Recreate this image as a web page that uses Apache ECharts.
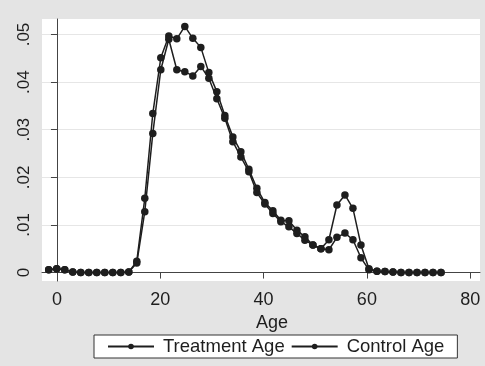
<!DOCTYPE html>
<html>
<head>
<meta charset="utf-8">
<script src="https://cdn.jsdelivr.net/npm/echarts@6/dist/echarts.min.js"></script>
<style>
  html, body { margin: 0; padding: 0; background: #e4e4e4; }
  #main { width: 485px; height: 366px; }
</style>
</head>
<body>
<div id="main"></div>
<script>
var ages = [-1.6, -0.05, 1.5, 3.05, 4.6, 6.15, 7.7, 9.25, 10.8, 12.35,
  13.9, 15.45, 17.0, 18.55, 20.1, 21.65, 23.2, 24.75, 26.3, 27.85,
  29.4, 30.95, 32.5, 34.05, 35.6, 37.15, 38.7, 40.25, 41.8, 43.35,
  44.9, 46.45, 48.0, 49.55, 51.1, 52.65, 54.2, 55.75, 57.3, 58.85,
  60.4, 61.95, 63.5, 65.05, 66.6, 68.15, 69.7, 71.25, 72.8, 74.35];

var treatment = [0.0006, 0.0008, 0.0006, 0.0001, 0, 0, 0, 0, 0, 0,
  0.0001, 0.0024, 0.0156, 0.0334, 0.0451, 0.0497, 0.0491, 0.0517, 0.0492, 0.0473,
  0.0420, 0.0380, 0.0330, 0.0285, 0.0254, 0.0217, 0.0177, 0.0147, 0.0130, 0.0110,
  0.0109, 0.0089, 0.0075, 0.0058, 0.0050, 0.0069, 0.0142, 0.0163, 0.0135, 0.0058,
  0.0008, 0.0003, 0.0002, 0.0001, 0, 0, 0, 0, 0, 0];

var control = [0.0006, 0.0008, 0.0006, 0.0001, 0, 0, 0, 0, 0, 0,
  0.0001, 0.0020, 0.0128, 0.0292, 0.0426, 0.0490, 0.0426, 0.0422, 0.0413, 0.0433,
  0.0408, 0.0365, 0.0324, 0.0275, 0.0243, 0.0212, 0.0168, 0.0144, 0.0124, 0.0107,
  0.0096, 0.0082, 0.0068, 0.0058, 0.0050, 0.0048, 0.0074, 0.0083, 0.0069, 0.0031,
  0.0006, 0.0003, 0.0002, 0.0001, 0, 0, 0, 0, 0, 0];

var xTicks = [0, 20, 40, 60, 80];
var yTicks = [0, 0.01, 0.02, 0.03, 0.04, 0.05];
var yTickLabels = ['0', '.01', '.02', '.03', '.04', '.05'];

function pairs(ys) {
  return ages.map(function (a, i) { return [a, ys[i]]; });
}

var ink = '#1e1e1e';
var font = 'Liberation Sans, Arial, sans-serif';

var myChart = echarts.init(document.getElementById('main'));
var option = {
  backgroundColor: '#e4e4e4',
  animation: false,
  grid: {
    left: 42, top: 19, right: 5, bottom: 85,
    show: true, backgroundColor: '#ffffff', borderWidth: 0
  },
  legend: {
    left: 94, top: 335,
    padding: [2, 13, 2, 13],
    backgroundColor: '#ffffff',
    borderColor: '#333',
    borderWidth: 1,
    borderRadius: 0,
    itemWidth: 46, itemHeight: 7,
    itemGap: 6,
    textStyle: { fontFamily: font, fontSize: 18.5, color: ink, padding: [0, 0, 0, 4] },
    data: ['Treatment Age', 'Control Age']
  },
  xAxis: {
    type: 'value',
    min: -2.9, max: 81.9,
    name: 'Age',
    nameLocation: 'middle',
    nameGap: 31,
    nameTextStyle: { fontFamily: font, fontSize: 18, color: ink, padding: [0, 0, 0, 22] },
    axisLine: { show: true, lineStyle: { color: '#444', width: 1 } },
    axisTick: { show: true, length: 6, customValues: xTicks, lineStyle: { color: '#444' } },
    axisLabel: { customValues: xTicks, margin: 10, fontFamily: font, fontSize: 18, color: ink },
    splitLine: { show: false }
  },
  yAxis: {
    type: 'value',
    min: -0.00177, max: 0.05326,
    axisLine: { show: true, lineStyle: { color: '#444', width: 1 } },
    axisTick: { show: true, length: 6, customValues: yTicks, lineStyle: { color: '#444' } },
    axisLabel: {
      customValues: yTicks, rotate: 90, margin: 9,
      fontFamily: font, fontSize: 17, color: ink,
      formatter: function (v) {
        var i = yTicks.findIndex(function (t) { return Math.abs(t - v) < 1e-9; });
        return i >= 0 ? yTickLabels[i] : '';
      }
    },
    splitLine: { show: true, lineStyle: { color: '#e6e6e6', width: 1 } }
  },
  series: [
    {
      name: 'Treatment Age',
      type: 'line',
      data: pairs(treatment),
      symbol: 'circle', symbolSize: 7.5,
      itemStyle: { color: ink },
      lineStyle: { color: ink, width: 1.5 }
    },
    {
      name: 'Control Age',
      type: 'line',
      data: pairs(control),
      symbol: 'circle', symbolSize: 7.5,
      itemStyle: { color: ink },
      lineStyle: { color: ink, width: 1.5 }
    }
  ]
};

option && myChart.setOption(option);
</script>
</body>
</html>
